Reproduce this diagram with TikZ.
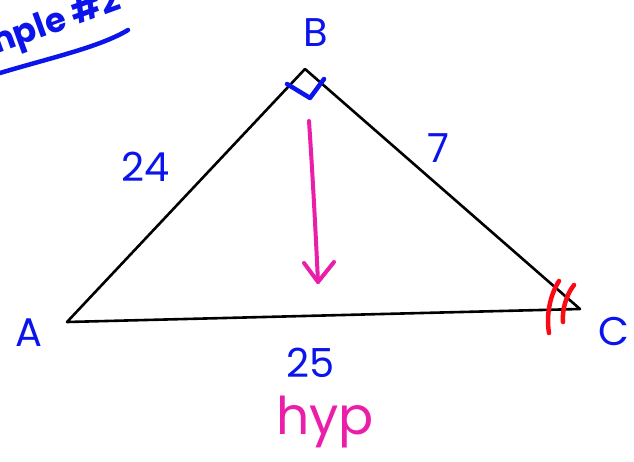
\documentclass[tikz,border=0pt]{standalone}
\usepackage{fontspec}
\setmainfont{Poppins}
\definecolor{penblue}{RGB}{10,20,235}
\definecolor{penpink}{RGB}{235,30,170}
\definecolor{penred}{RGB}{250,10,20}
\tikzset{
  side/.style={draw=black,line width=2.6pt,line cap=round,line join=round},
  bluelabel/.style={text=penblue,font=\fontsize{40}{42}\selectfont},
  pinkpen/.style={draw=penpink,line width=4pt,line cap=round,line join=round},
  redpen/.style={draw=penred,line width=4.5pt,line cap=round},
  bluepen/.style={draw=penblue,line width=4.5pt,line cap=round,line join=round}
}
\begin{document}
\begin{tikzpicture}[x=1pt,y=-1pt]
\useasboundingbox (0,0) rectangle (634,462);
\clip (0,0) rectangle (634,462);
% vertices
\coordinate (A) at (67,322);
\coordinate (B) at (305,69);
\coordinate (C) at (580,309);
\draw[side] (A) -- (B) -- (C) -- cycle;
% right angle mark
\coordinate (r1) at (287,84);
\coordinate (r2) at (310,98);
\coordinate (r3) at (324,79);
\draw[bluepen] (r1) -- (r2) -- (r3);
% red arcs at C
\coordinate (a1s) at (559,281);
\coordinate (a1e) at (549,333);
\coordinate (a2s) at (574,285);
\coordinate (a2e) at (563,322);
\draw[redpen] (a1s) .. controls (550,295) and (546,315) .. (a1e);
\draw[redpen] (a2s) .. controls (566,295) and (562,310) .. (a2e);
% magenta arrow
\coordinate (p0) at (309,121);
\coordinate (p1) at (318,282);
\coordinate (h1) at (304,263);
\coordinate (h2) at (334,262);
\draw[pinkpen] (p0) .. controls (313,180) and (316,240) .. (p1);
\draw[pinkpen] (h1) -- (p1) -- (h2);
% labels
\node[bluelabel] (lB) at (316,33) {B};
\node[bluelabel] (lA) at (29,333) {A};
\node[bluelabel] (lC) at (614,331) {C};
\node[bluelabel] (l24) at (146,167) {24};
\node[bluelabel] (l7) at (438,148) {7};
\node[bluelabel] (l25) at (311,363) {25};
\node[text=penpink,font=\fontsize{52}{54}\selectfont] (lhyp) at (325,422) {hyp};
% title fragment
\node[text=penblue,font=\fontsize{34}{36}\selectfont\bfseries,rotate=20,anchor=south east,inner sep=0pt] (title) at (126,17) {mple \#2};
\coordinate (u1) at (0,73);
\coordinate (u2) at (128,30);
\draw[bluepen] (u1) .. controls (50,58) and (100,47) .. (u2);
\end{tikzpicture}
\end{document}
